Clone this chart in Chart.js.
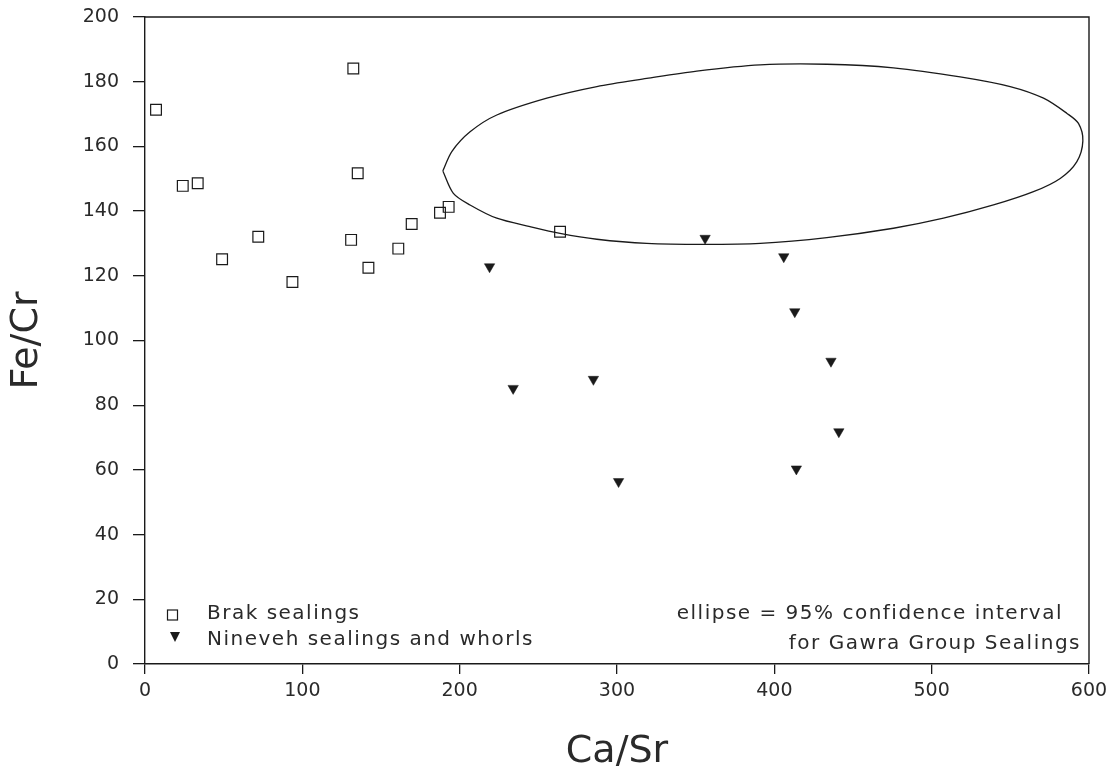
<!DOCTYPE html>
<html><head><meta charset="utf-8">
<script src="https://cdn.jsdelivr.net/npm/chart.js@4/dist/chart.umd.min.js"></script>
<style>html,body{margin:0;padding:0;background:#fff;overflow:hidden}</style>
</head><body>
<canvas id="c" width="1117" height="779"></canvas>
<script>
// ---- data ----
const brakX = [7, 24, 33.5, 49, 72, 93.7, 132.4, 135.2, 131, 142, 161, 169.5, 187.5, 193, 263.8];
const brakY = [171.3, 147.8, 148.6, 125.1, 132.1, 118.1, 184.1, 151.7, 131.1, 122.5, 128.4, 136, 139.5, 141.3, 133.6];
const ninevehX = [219, 234, 285, 301, 356, 406, 413, 436, 441, 414];
const ninevehY = [122.8, 85.2, 88, 56.4, 131.6, 125.9, 108.9, 93.6, 71.8, 60.3];
const ellipseX = [189.3, 195.0, 206.6, 223.6, 255.4, 287.2, 318.9, 350.7, 391.0, 433.4, 475.7, 518.1, 549.9, 571.1, 586.0, 593.3, 596.1, 592.3, 581.7, 564.7, 539.3, 507.5, 475.7, 433.4, 391.0, 354.9, 318.9, 287.2, 263.8, 244.7, 223.6, 206.6, 196.0, 189.3];
const ellipseY = [152.4, 158.4, 164.5, 169.7, 174.9, 178.5, 181.0, 183.3, 185.2, 185.4, 184.3, 181.5, 178.5, 174.9, 170.2, 167.1, 161.7, 155.3, 150.1, 146.0, 141.9, 137.8, 134.7, 131.8, 130.0, 129.7, 130.0, 131.3, 133.1, 135.2, 137.8, 141.9, 145.5, 152.4];
const xTicks = [0, 100, 200, 300, 400, 500, 600];
const yTicks = [0, 20, 40, 60, 80, 100, 120, 140, 160, 180, 200];
const seriesNames = ['Brak sealings', 'Nineveh sealings and whorls'];
const noteLines = ['ellipse = 95% confidence interval', 'for Gawra Group Sealings'];
const xTitle = 'Ca/Sr';
const yTitle = 'Fe/Cr';

// ---- styling ----
const FONT = '"DejaVu Sans", "Liberation Sans", sans-serif';
const INK = '#1a1a1a';
const TXT = '#2a2a2a';
const toPts = (xs, ys) => xs.map((x, i) => ({x, y: ys[i]}));

const framePlugin = {
  id: 'frame',
  afterDraw(chart) {
    const {ctx, chartArea: a} = chart;
    ctx.save();
    ctx.strokeStyle = INK;
    ctx.lineWidth = 1.4;
    ctx.beginPath();
    ctx.moveTo(a.left, a.top); ctx.lineTo(a.right, a.top); ctx.lineTo(a.right, a.bottom);
    ctx.stroke();
    // legend
    ctx.fillStyle = TXT;
    ctx.font = '20px ' + FONT;
    ctx.textBaseline = 'middle';
    ctx.textAlign = 'left';
    if ('letterSpacing' in ctx) ctx.letterSpacing = '1.5px';
    const lx = a.left + 27.5;
    ctx.lineWidth = 1.2;
    ctx.strokeRect(lx - 5, a.bottom - 54, 10, 10);
    ctx.fillText(seriesNames[0], a.left + 62, a.bottom - 50);
    ctx.fillStyle = INK;
    ctx.beginPath();
    const ty = a.bottom - 27;
    ctx.moveTo(lx - 2.5, ty - 5); ctx.lineTo(lx + 7.5, ty - 5); ctx.lineTo(lx + 2.5, ty + 5);
    ctx.closePath(); ctx.fill();
    ctx.fillStyle = TXT;
    ctx.fillText(seriesNames[1], a.left + 62, a.bottom - 24);
    ctx.textAlign = 'right';
    ctx.fillText(noteLines[0], a.right - 26, a.bottom - 50);
    ctx.fillText(noteLines[1], a.right - 8, a.bottom - 20);
    ctx.restore();
  }
};

new Chart(document.getElementById('c'), {
  type: 'scatter',
  data: {
    datasets: [
      {
        label: seriesNames[0],
        data: toPts(brakX, brakY),
        pointStyle: 'rect',
        pointRadius: 7.6,
        pointBorderWidth: 1.2,
        pointBackgroundColor: 'rgba(255,255,255,0)',
        pointBorderColor: INK
      },
      {
        label: seriesNames[1],
        data: toPts(ninevehX, ninevehY),
        pointStyle: 'triangle',
        rotation: 180,
        pointRadius: 6,
        pointBorderWidth: 0.5,
        pointBackgroundColor: INK,
        pointBorderColor: INK
      },
      {
        label: 'ellipse',
        type: 'line',
        data: toPts(ellipseX, ellipseY),
        showLine: true,
        pointRadius: 0,
        borderWidth: 1.3,
        borderColor: INK,
        fill: false,
        tension: 0.3
      }
    ]
  },
  options: {
    responsive: false,
    animation: false,
    devicePixelRatio: 1,
    layout: {padding: {top: 17, right: 28, left: 0, bottom: 0}},
    plugins: {legend: {display: false}, tooltip: {enabled: false}},
    scales: {
      x: {
        type: 'linear', min: 0, max: 600,
        afterBuildTicks: s => { s.ticks = xTicks.map(v => ({value: v})); },
        afterFit: s => { s.height = 115; s.paddingLeft = 0; s.paddingRight = 0; },
        grid: {display: true, drawOnChartArea: false, drawTicks: true, tickLength: 10, color: INK, lineWidth: 1.3},
        border: {display: true, color: INK, width: 1.4},
        ticks: {color: TXT, font: {family: FONT, size: 19}, padding: 6, maxRotation: 0},
        title: {display: true, text: xTitle, color: TXT, font: {family: FONT, size: 38, weight: 'normal'}, padding: {top: 0, bottom: 4}}
      },
      y: {
        type: 'linear', min: 0, max: 200,
        afterBuildTicks: s => { s.ticks = yTicks.map(v => ({value: v})); },
        afterFit: s => { s.width = 145; s.paddingTop = 0; s.paddingBottom = 0; },
        grid: {display: true, drawOnChartArea: false, drawTicks: true, tickLength: 12, color: INK, lineWidth: 1.3},
        border: {display: true, color: INK, width: 1.4},
        ticks: {color: TXT, font: {family: FONT, size: 19}, padding: 14},
        title: {display: true, text: yTitle, color: TXT, font: {family: FONT, size: 38, weight: 'normal'}, padding: {top: 4, bottom: 0}}
      }
    }
  },
  plugins: [framePlugin]
});
</script>
</body></html>
